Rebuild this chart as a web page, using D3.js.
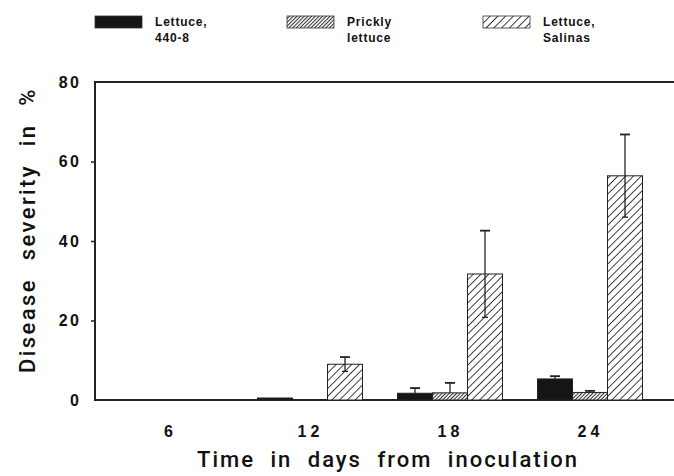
<!DOCTYPE html>
<html><head><meta charset="utf-8">
<script src="https://cdn.jsdelivr.net/npm/d3@7"></script>
<style>body{margin:0;background:#fff}svg{display:block}text{font-family:"Liberation Sans",Arial,sans-serif;fill:#111}</style>
</head><body><div id="chart"></div>
<script>
const days = ["6","12","18","24"];
const seriesNames = ["Lettuce, 440-8","Prickly lettuce","Lettuce, Salinas"];
const lettuce4408 = [0, 0.5, 1.7, 5.3];
const lettuce4408Err = [0, 0, 1.3, 0.7];
const prickly = [0, 0, 1.8, 1.9];
const pricklyErr = [0, 0, 2.5, 0.4];
const salinas = [0, 9.0, 31.7, 56.4];
const salinasErr = [0, 1.8, 10.9, 10.4];
const yTicks = [0, 20, 40, 60, 80];

const W = 674, H = 476;
const svg = d3.select("#chart").append("svg").attr("width", W).attr("height", H);
const defs = svg.append("defs");
const p1 = defs.append("pattern").attr("id","hatchDense").attr("patternUnits","userSpaceOnUse")
  .attr("width",2.6).attr("height",2.6).attr("patternTransform","rotate(45)");
p1.append("rect").attr("width",2.6).attr("height",2.6).attr("fill","#eee");
p1.append("line").attr("x1",0).attr("y1",0).attr("x2",0).attr("y2",2.6).attr("stroke","#222").attr("stroke-width",1.7);
const p2 = defs.append("pattern").attr("id","hatchWide").attr("patternUnits","userSpaceOnUse")
  .attr("width",5.5).attr("height",5.5).attr("patternTransform","rotate(45)");
p2.append("rect").attr("width",5.5).attr("height",5.5).attr("fill","#fff");
p2.append("line").attr("x1",0).attr("y1",0).attr("x2",0).attr("y2",5.5).attr("stroke","#111").attr("stroke-width",1.6);

const fills = ["#151515","url(#hatchDense)","url(#hatchWide)"];
const pLeft = 95, pTop = 82, pBottom = 400, pRight = 674;
const x = d3.scalePoint().domain(days).range([170, 590]);
const y = d3.scaleLinear().domain([0, 80]).range([pBottom, pTop]);
const bw = 35;
const titleFont = "Roboto,'Liberation Sans',Arial,sans-serif";

// frame lines
svg.append("path").attr("d", `M${pRight},${pTop}H${pLeft}V${pBottom}H${pRight}`)
  .attr("fill","none").attr("stroke","#222").attr("stroke-width",2);

// y axis ticks
const yAxis = d3.axisLeft(y).tickValues(yTicks).tickSize(4).tickPadding(10).tickFormat(d3.format("d"));
const ga = svg.append("g").attr("transform",`translate(${pLeft},0)`).call(yAxis);
ga.select(".domain").remove();
ga.selectAll("line").attr("stroke","#222").attr("stroke-width",1.5);
ga.selectAll("line").filter(d => d === 0 || d === 80).remove();
ga.selectAll("text").style("font-size","16px").style("font-weight","bold").style("letter-spacing","2.2px")
  .style("font-family","'Liberation Sans',Arial,sans-serif").attr("fill","#111");

// x tick labels
const xAxis = d3.axisBottom(x).tickSize(0).tickPadding(0);
const gx = svg.append("g").attr("transform",`translate(0,${pBottom})`).call(xAxis);
gx.select(".domain").remove();
gx.selectAll("text").attr("dy", null).attr("y", 37).style("font-size","16px").style("font-weight","bold")
  .style("letter-spacing","4px").style("font-family","'Liberation Sans',Arial,sans-serif").attr("fill","#111");

const data = [
  {vals: lettuce4408, errs: lettuce4408Err},
  {vals: prickly, errs: pricklyErr},
  {vals: salinas, errs: salinasErr}
];
data.forEach((s, si) => {
  const g = svg.append("g");
  days.forEach((d, i) => {
    const v = s.vals[i];
    if (v <= 0) return;
    const x0 = x(d) - bw * 1.5 + si * bw;
    g.append("rect").attr("x", x0).attr("y", y(v)).attr("width", bw).attr("height", y(0) - y(v))
      .attr("fill", fills[si]).attr("stroke","#222").attr("stroke-width",1);
    const e = s.errs[i];
    if (e > 0) {
      const cx = x0 + bw / 2;
      const lo = si === 2 ? y(v - e) : y(v);
      g.append("line").attr("x1",cx).attr("x2",cx).attr("y1",y(v+e)).attr("y2",lo).attr("stroke","#222").attr("stroke-width",1.3);
      g.append("line").attr("x1",cx-5).attr("x2",cx+5).attr("y1",y(v+e)).attr("y2",y(v+e)).attr("stroke","#222").attr("stroke-width",1.8);
      if (si === 2) g.append("line").attr("x1",cx-3).attr("x2",cx+3).attr("y1",lo).attr("y2",lo).attr("stroke","#222").attr("stroke-width",1.3);
    }
  });
});

// axis titles
svg.append("text").attr("transform","translate(35,230) rotate(-90)").attr("text-anchor","middle")
  .style("font-family",titleFont).style("font-weight","500")
  .style("font-size","22px").style("letter-spacing","2.4px").style("word-spacing","10px").text("Disease severity in %");
svg.append("text").attr("x", 388).attr("y", 467).attr("text-anchor","middle")
  .style("font-family",titleFont).style("font-weight","500")
  .style("font-size","22px").style("letter-spacing","2px").style("word-spacing","8px").text("Time in days from inoculation");

// legend
const legX = [95, 287, 483];
const legLines = [["Lettuce,","440-8"],["Prickly","lettuce"],["Lettuce,","Salinas"]];
legLines.forEach((ls, i) => {
  svg.append("rect").attr("x", legX[i]).attr("y", 16).attr("width", 47).attr("height", 12)
    .attr("fill", fills[i]).attr("stroke","#333").attr("stroke-width",0.8);
  ls.forEach((t, j) => {
    svg.append("text").attr("x", legX[i] + 60).attr("y", 26 + j * 16)
      .style("font-size","12px").style("font-weight","bold").style("letter-spacing","0.8px").text(t);
  });
});
</script></body></html>
